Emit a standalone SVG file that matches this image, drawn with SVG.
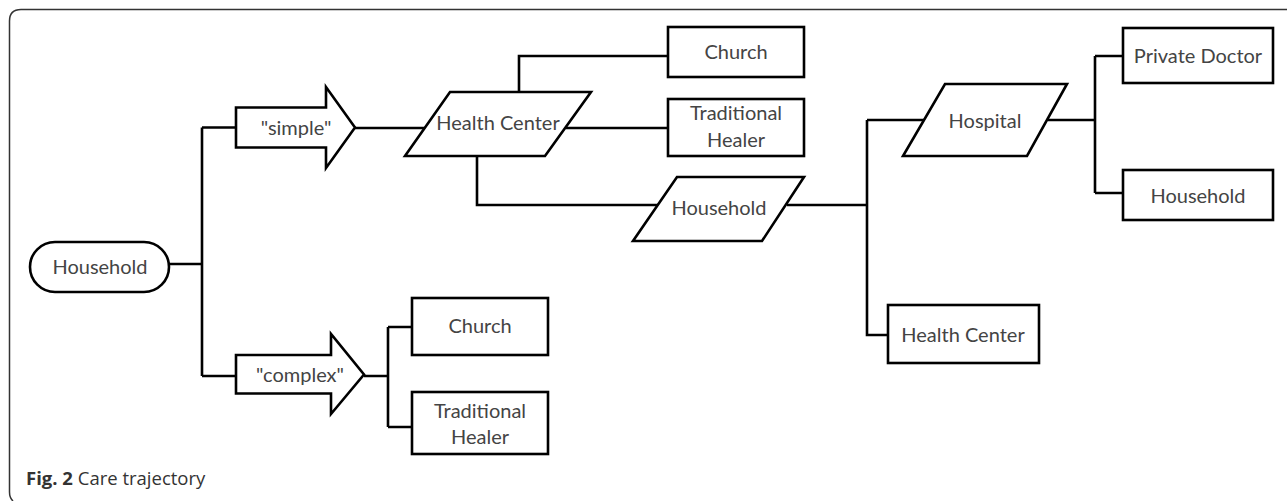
<svg xmlns="http://www.w3.org/2000/svg" width="1287" height="501" viewBox="0 0 1287 501">
<style>
.shape{fill:#fff;stroke:#000;stroke-width:2.6;stroke-linejoin:miter}
.conn{fill:none;stroke:#000;stroke-width:2.6}
.lbl{font-family:Lato,"Open Sans",sans-serif;font-size:20px;fill:#444;text-anchor:middle;dominant-baseline:central}
.frame{fill:none;stroke:#333;stroke-width:1.5}
.cap{font-family:"Open Sans","Liberation Sans",sans-serif;font-size:18.5px;fill:#333}
</style>
<rect x="0" y="0" width="1287" height="501" fill="#fff"/>
<path class="frame" d="M1287,9.5 H21 Q9.5,9.5 9.5,21 V492 Q9.5,498 13,501"/>
<g id="connectors">
<path class="conn" d="M169,264 H202 M202,127.5 V376 M202,127.5 H236 M202,376 H236"/>
<path class="conn" d="M355,128 H425 M566,128 H668 M519,92 V56 H668"/>
<path class="conn" d="M477,156 V205 H658"/>
<path class="conn" d="M787,205 H867 M867,120 V335 H888 M867,120 H924"/>
<path class="conn" d="M1048,120 H1095 M1095,56 V193 M1095,56 H1123 M1095,193 H1123"/>
<path class="conn" d="M364,376 H388 M388,327 V427 M388,327 H412 M388,427 H412"/>
</g>
<g id="household-start">
<rect class="shape" x="30" y="242" width="139" height="50" rx="25" ry="25"/>
<text class="lbl" x="100" y="266">Household</text>
</g>
<g id="simple">
<path class="shape" d="M236,107.5 H326 V87 L355,127.5 L326,168 V147.5 H236 Z"/>
<text class="lbl" x="296" y="127">"simple"</text>
</g>
<g id="complex">
<path class="shape" d="M236,355 H331 V334 L364,374.5 L331,414 V393.5 H236 Z"/>
<text class="lbl" x="300" y="374">"complex"</text>
</g>
<g id="health-center-1">
<path class="shape" d="M450,92 H591 L545,156 H405 Z"/>
<text class="lbl" x="498" y="122">Health Center</text>
</g>
<g id="church-1">
<rect class="shape" x="668" y="27" width="136" height="50"/>
<text class="lbl" x="736" y="51">Church</text>
</g>
<g id="healer-1">
<rect class="shape" x="668" y="99" width="136" height="57"/>
<text class="lbl" x="736" y="112">Traditional</text>
<text class="lbl" x="736" y="139">Healer</text>
</g>
<g id="household-2">
<path class="shape" d="M677,177 H804 L762,241 H633 Z"/>
<text class="lbl" x="719" y="207">Household</text>
</g>
<g id="hospital">
<path class="shape" d="M945,84 H1067 L1027,156 H903 Z"/>
<text class="lbl" x="985" y="120">Hospital</text>
</g>
<g id="private-doctor">
<rect class="shape" x="1123" y="28" width="150" height="55"/>
<text class="lbl" x="1198" y="55">Private Doctor</text>
</g>
<g id="household-3">
<rect class="shape" x="1123" y="170" width="150" height="50"/>
<text class="lbl" x="1198" y="195">Household</text>
</g>
<g id="health-center-2">
<rect class="shape" x="888" y="305" width="151" height="58"/>
<text class="lbl" x="963" y="334">Health Center</text>
</g>
<g id="church-2">
<rect class="shape" x="412" y="298" width="136" height="57"/>
<text class="lbl" x="480" y="325">Church</text>
</g>
<g id="healer-2">
<rect class="shape" x="412" y="392" width="136" height="62"/>
<text class="lbl" x="480" y="410">Traditional</text>
<text class="lbl" x="480" y="436">Healer</text>
</g>
<text class="cap" x="26" y="485"><tspan font-weight="bold">Fig. 2</tspan> Care trajectory</text>
</svg>
